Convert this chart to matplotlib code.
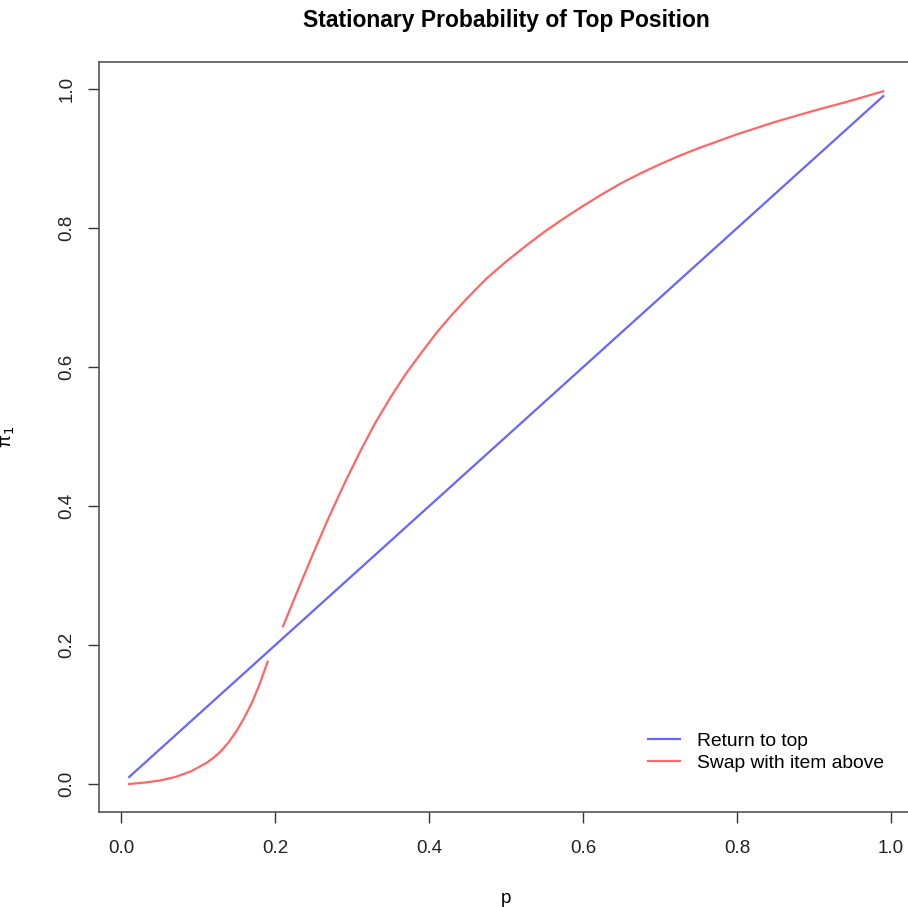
import matplotlib
matplotlib.use('Agg')
import matplotlib.pyplot as plt
import numpy as np

plt.rcParams['font.family'] = ['Liberation Sans', 'DejaVu Sans']

# blue: return to top
p_top = [0.01, 0.99]
pi_top = [0.01, 0.99]

# red: swap with item above (gap at p = 0.2)
p_swap = [0.01, 0.03, 0.05, 0.07, 0.09, 0.11, 0.12, 0.13, 0.14, 0.15, 0.16, 0.17, 0.18, 0.19, 0.20,
          0.21, 0.23, 0.25, 0.27, 0.29, 0.31, 0.33, 0.35, 0.37, 0.39, 0.41, 0.43, 0.45,
          0.475, 0.50, 0.525, 0.55, 0.575, 0.60, 0.625, 0.65, 0.675, 0.70, 0.725, 0.75,
          0.775, 0.80, 0.85, 0.90, 0.95, 0.99]
pi_swap = [0.000, 0.002, 0.005, 0.010, 0.018, 0.030, 0.038, 0.048, 0.061, 0.077, 0.096, 0.118, 0.145, 0.176, np.nan,
           0.227, 0.281, 0.334, 0.385, 0.433, 0.478, 0.520, 0.557, 0.591, 0.621, 0.650, 0.676, 0.700,
           0.728, 0.752, 0.774, 0.795, 0.814, 0.832, 0.849, 0.865, 0.879, 0.892, 0.904, 0.915,
           0.925, 0.935, 0.953, 0.969, 0.984, 0.997]

fig = plt.figure(figsize=(9.08, 9.07), dpi=100)
ax = fig.add_axes([0.109, 0.105, 0.897, 0.8266])

ax.plot(p_top, pi_top, color='#6666ff', lw=1.6, label='Return to top')
ax.plot(p_swap, pi_swap, color='#ff6666', lw=1.6, label='Swap with item above')

ax.set_xlim(-0.0292, 1.0292)
ax.set_ylim(-0.04, 1.039)
ax.set_xticks([0.0, 0.2, 0.4, 0.6, 0.8, 1.0])
ax.set_yticks([0.0, 0.2, 0.4, 0.6, 0.8, 1.0])
ax.xaxis.set_major_formatter(matplotlib.ticker.FormatStrFormatter('%.1f'))
ax.yaxis.set_major_formatter(matplotlib.ticker.FormatStrFormatter('%.1f'))
ax.tick_params(direction='out', length=8, width=1, color='#333333', labelsize=13.5, labelcolor='#222222')
ax.tick_params(axis='x', pad=12)
ax.tick_params(axis='y', pad=9)
plt.setp(ax.get_yticklabels(), rotation=90, va='center')
for s in ax.spines.values():
    s.set_color('#555555')
    s.set_linewidth(1.2)

ax.set_title('Stationary Probability of Top Position', fontsize=16.5, fontweight='bold', pad=25)
ax.set_xlabel('p', fontsize=13.5, labelpad=24)
ax.set_ylabel('π$_1$', fontsize=13.5, labelpad=30)

ax.legend(loc='lower right', frameon=False, fontsize=13.9, handlelength=1.7, handletextpad=0.85,
          bbox_to_anchor=(0.985, 0.03), labelspacing=0.25)

fig.savefig('out.png', dpi=100)
